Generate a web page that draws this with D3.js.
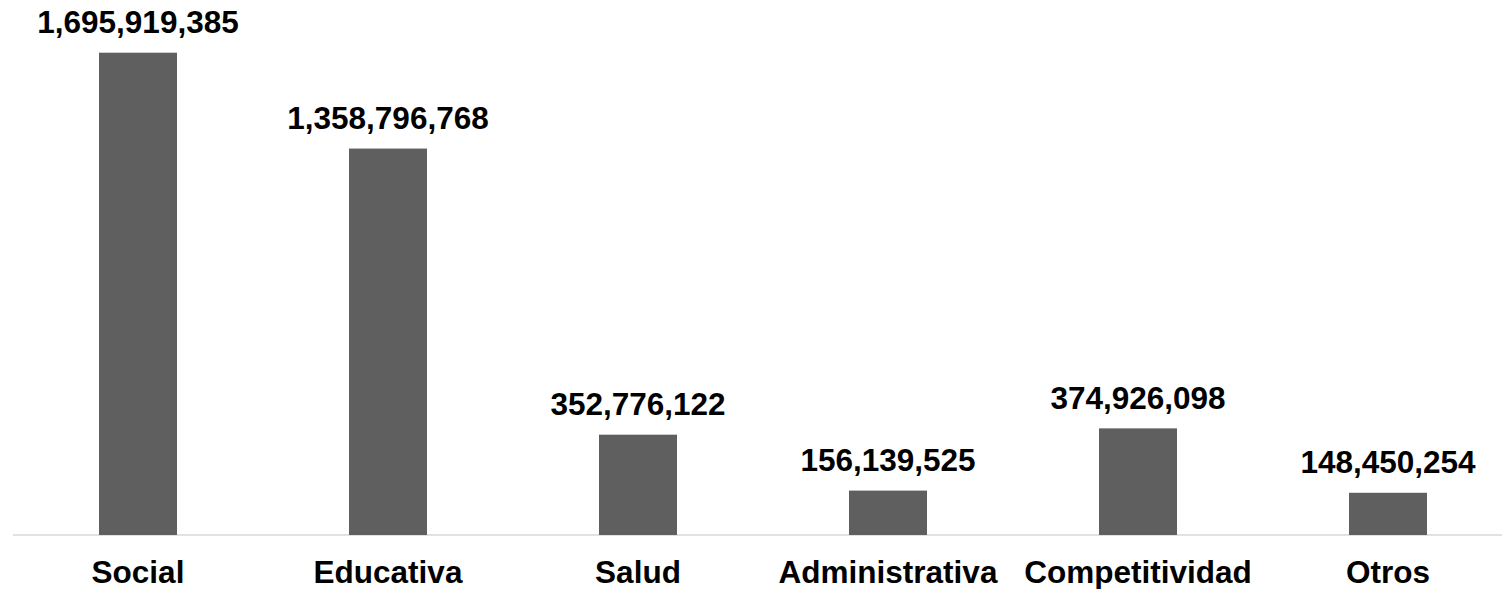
<!DOCTYPE html>
<html><head><meta charset="utf-8">
<script src="https://cdn.jsdelivr.net/npm/d3@7"></script>
<style>html,body{margin:0;padding:0;background:#fff;}svg{display:block;}</style>
</head><body>
<svg id="c" width="1502" height="589"></svg>
<script>
const categories = ["Social", "Educativa", "Salud", "Administrativa", "Competitividad", "Otros"];
const values = [1695919385, 1358796768, 352776122, 156139525, 374926098, 148450254];

const svg = d3.select("#c");
const x = d3.scaleBand().domain(categories).range([13, 1513]).paddingInner(0).paddingOuter(0);
const y = d3.scaleLinear().domain([0, 1695919385]).range([535, 52.7]);
const barFrac = 0.312;
const fmt = d3.format(",");

svg.append("line").attr("x1", 13).attr("x2", 1502).attr("y1", 535).attr("y2", 535)
  .attr("stroke", "#d9d9d9").attr("stroke-width", 1.5);

const g = svg.append("g");
g.selectAll("rect").data(values).join("rect")
  .attr("x", (d, i) => x(categories[i]) + x.bandwidth() * (1 - barFrac) / 2)
  .attr("width", x.bandwidth() * barFrac)
  .attr("y", d => y(d))
  .attr("height", d => y(0) - y(d))
  .attr("fill", "#5f5f5f");

g.selectAll("text.v").data(values).join("text").attr("class", "v")
  .attr("x", (d, i) => x(categories[i]) + x.bandwidth() / 2)
  .attr("y", d => y(d) - 19.5)
  .attr("text-anchor", "middle")
  .attr("font-family", "Liberation Sans, Arial, sans-serif")
  .attr("font-weight", "bold").attr("font-size", "31.5px").attr("fill", "#000")
  .text(d => fmt(d));

g.selectAll("text.c").data(categories).join("text").attr("class", "c")
  .attr("x", d => x(d) + x.bandwidth() / 2)
  .attr("y", 583)
  .attr("text-anchor", "middle")
  .attr("font-family", "Liberation Sans, Arial, sans-serif")
  .attr("font-weight", "bold").attr("font-size", "31.5px").attr("fill", "#000")
  .text(d => d);
</script>
</body></html>
